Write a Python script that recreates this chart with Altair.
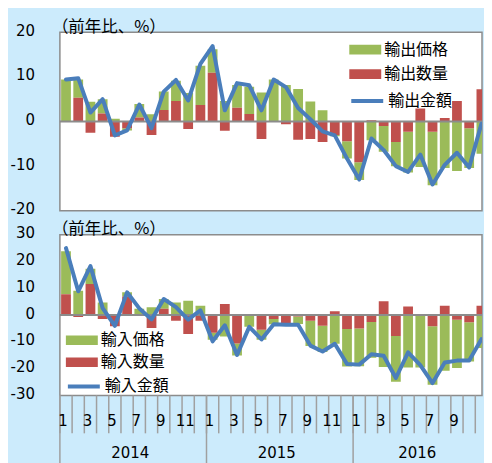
import altair as alt
import pandas as pd

# ---------------- data ----------------
months = list(range(35))                      # Jan 2014 .. Nov 2016
month_numbers = [m % 12 + 1 for m in months]
years = ["2014", "2015", "2016"]
year_first = [0, 12, 24]
year_last = [12, 24, 35]

exp_names = ["輸出価格", "輸出数量", "輸出金額"]
imp_names = ["輸入価格", "輸入数量", "輸入金額"]
unit_label = "（前年比、%）"

exp_price = [9.4, 4.1, 4.4, 3.2, 0.6, -0.5, 3.0, 1.6, 4.1, 4.5, 6.4, 8.8,
             5.3, 4.6, 5.1, 6.1, 6.5, 9.4, 8.2, 7.3, 4.5, 2.5, -0.3, -3.9,
             -4.0, -4.2, -5.8, -5.4, -9.1, -10.2, -12.0, -10.4, -11.1, -8.9, -7.2]
exp_qty = [0.0, 5.3, -2.5, 1.8, -3.4, -1.5, 0.9, -3.0, 2.6, 4.6, -1.7, 3.7,
           10.9, -2.1, 3.1, 1.7, -3.9, -0.1, -0.6, -4.1, -3.9, -4.6, -3.0, -4.4,
           -9.1, 0.3, -1.0, -4.6, -2.3, 2.9, -2.3, 0.8, 4.6, -1.5, 7.2]
exp_value = [9.4, 9.7, 2.0, 5.0, -3.1, -2.0, 3.8, -1.5, 6.7, 9.3, 4.7, 12.9,
             16.9, 2.5, 8.6, 8.1, 2.5, 9.4, 7.7, 3.0, 0.5, -2.2, -3.1, -8.3,
             -13.0, -3.8, -6.4, -10.0, -11.3, -7.4, -14.1, -9.7, -7.0, -10.3, -0.5]

imp_price = [16.0, 9.1, 5.7, 4.7, 0.2, 1.6, 2.4, 2.9, 3.6, 4.7, 5.4, 3.5,
             -2.6, -8.0, -4.5, -4.4, -3.7, -1.9, -0.4, -2.8, -9.4, -9.8, -10.7, -14.0,
             -14.1, -13.3, -19.4, -17.1, -19.6, -19.6, -21.8, -20.8, -18.1, -14.6, -12.3]
imp_qty = [7.8, -0.7, 11.6, -1.5, -4.2, 6.9, 0.0, -4.8, 2.4, -2.1, -7.1, -2.1,
           -6.6, 4.1, -10.6, 0.0, -5.5, -1.5, -3.0, -0.5, -2.1, -4.0, 1.4, -5.2,
           -5.0, -2.6, 5.2, -7.8, 3.2, 0.3, -4.2, 3.5, -1.7, -2.7, 3.5]
imp_value = [25.0, 8.9, 18.3, 2.6, -4.0, 8.5, 2.5, -1.6, 6.0, 3.0, -1.7, 1.8,
             -9.8, -3.8, -14.9, -4.4, -9.1, -3.4, -3.6, -3.6, -11.4, -13.6, -10.7, -18.3,
             -18.5, -14.6, -15.2, -23.5, -13.9, -18.7, -25.4, -17.7, -17.0, -17.0, -9.0]

# ---------------- style ----------------
GREEN = "#9BBB59"
RED = "#C0504D"
BLUE = "#4A7EBB"
GRAY = "#8C8C8C"
TICK = "#A0A0A0"
BG = "#CCEBFC"
NUM_FONT = "DejaVu Sans"
JP_FONT = "Noto Sans CJK JP"

W = 423
XMAX = 34.55


def panel(price, qty, value, names, ydom, yvals, h, leg, with_axis):
    n = len(months)
    bar_df = pd.DataFrame({
        "i": months + months,
        "series": [names[0]] * n + [names[1]] * n,
        "v": price + qty,
        "ord": [1] * n + [0] * n,
    })
    line_df = pd.DataFrame({"i": months, "series": [names[2]] * n, "v": value})
    xs = alt.Scale(domain=[0, XMAX], nice=False, zero=False)
    ys = alt.Scale(domain=ydom, nice=False, zero=False)
    yax = alt.Axis(values=yvals, title=None, grid=False, ticks=False, domain=False,
                   labelPadding=25.5, labelFontSize=15, labelFont=NUM_FONT,
                   labelColor="#000000", labelOffset=-2,
                   labelExpr="'' + datum.value")

    bars = alt.Chart(bar_df).transform_stack(
        as_=["y0", "y1"], stack="v", groupby=["i"], offset="zero",
        sort=[alt.SortField("ord", order="ascending")]
    ).transform_calculate(
        x0="datum.i + 0.1", x1=f"min(datum.i + 0.9, {XMAX})"
    ).mark_rect(clip=True).encode(
        x=alt.X("x0:Q", scale=xs, axis=None),
        x2="x1:Q",
        y=alt.Y("y0:Q", scale=ys, axis=yax),
        y2="y1:Q",
        color=alt.Color("series:N",
                        scale=alt.Scale(domain=names[:2], range=[GREEN, RED]),
                        legend=alt.Legend(orient="none", legendX=leg["x"], legendY=leg["y"],
                                          title=None, symbolType="M-2,-0.6H2V0.6H-2Z",
                                          symbolSize=256, symbolStrokeWidth=0,
                                          labelFont=JP_FONT, labelFontSize=16,
                                          labelColor="#000000", labelOffset=11,
                                          rowPadding=leg["rp"], padding=0)),
    )

    zero = alt.Chart(pd.DataFrame({"z": [0]})).mark_rule(color=GRAY, strokeWidth=2).encode(
        y=alt.Y("z:Q", scale=ys, axis=yax)
    )

    line = alt.Chart(line_df).transform_calculate(xc="datum.i + 0.5").mark_line(
        clip=True, strokeWidth=4, strokeJoin="round", strokeCap="round"
    ).encode(
        x=alt.X("xc:Q", scale=xs, axis=None),
        y=alt.Y("v:Q", scale=ys, axis=yax),
        stroke=alt.Stroke("series:N",
                          scale=alt.Scale(domain=[names[2]], range=[BLUE]),
                          legend=alt.Legend(orient="none", legendX=leg["x"], legendY=leg["ly"],
                                            title=None, symbolType="M-2,0H2",
                                            symbolSize=256, symbolStrokeWidth=4,
                                            labelFont=JP_FONT, labelFontSize=16,
                                            labelColor="#000000", labelOffset=11,
                                            padding=0)),
    )

    unit = alt.Chart(pd.DataFrame({"t": [unit_label]})).mark_text(
        align="left", baseline="middle", font=JP_FONT, fontSize=16.5, color="#000000"
    ).encode(text="t:N", x=alt.value(-8), y=alt.value(-5.5))

    layers = [bars, zero, line, unit]

    if with_axis:
        tick_df = pd.DataFrame({"b": months})
        ticks = alt.Chart(tick_df).transform_filter(f"datum.b < {XMAX}").mark_rule(
            color=TICK, strokeWidth=1.5
        ).encode(
            x=alt.X("b:Q", scale=xs, axis=None), y=alt.value(h), y2=alt.value(h + 38)
        )
        year_df = pd.DataFrame({"year": years, "s": year_first, "e": year_last})
        yrules = alt.Chart(year_df).mark_rule(color=TICK, strokeWidth=1.5).encode(
            x=alt.X("s:Q", scale=xs, axis=None), y=alt.value(h), y2=alt.value(h + 69)
        )
        ylabels = alt.Chart(year_df).transform_calculate(c="(datum.s + datum.e) / 2").mark_text(
            font=NUM_FONT, fontSize=15, color="#000000", baseline="middle", dx=-3
        ).encode(x=alt.X("c:Q", scale=xs, axis=None), y=alt.value(h + 58), text="year:N")
        mdf = pd.DataFrame({"i": months, "m": month_numbers})
        mlabels = alt.Chart(mdf).transform_filter(
            "datum.m % 2 == 1 && datum.i < 34"
        ).transform_calculate(
            c="datum.i + 0.5"
        ).mark_text(
            font=NUM_FONT, fontSize=15, color="#000000", baseline="middle", dx=-3
        ).encode(x=alt.X("c:Q", scale=xs, axis=None), y=alt.value(h + 26), text="m:N")
        layers += [ticks, yrules, mlabels, ylabels]

    return alt.layer(*layers).resolve_scale(color="independent", stroke="independent").properties(width=W, height=h)


top = panel(exp_price, exp_qty, exp_value, exp_names, [-20, 20], [-20, -10, 0, 10, 20], 179,
            {"x": 298, "y": 9.5, "rp": 8.5, "ly": 59}, False)
bottom = panel(imp_price, imp_qty, imp_value, imp_names, [-30, 30], [-30, -20, -10, 0, 10, 20, 30], 161,
               {"x": 14, "y": 97.7, "rp": 6, "ly": 142}, True)

chart = alt.vconcat(top, bottom, spacing=24, bounds="flush").resolve_scale(
    color="independent", stroke="independent"
).configure(
    background=BG,
    padding={"left": 1, "top": 8.75, "right": 0, "bottom": 0},
).configure_view(fill="white", stroke=GRAY, strokeWidth=1.5)

chart.save("out.html", embed_options={"renderer": "svg", "actions": False})
